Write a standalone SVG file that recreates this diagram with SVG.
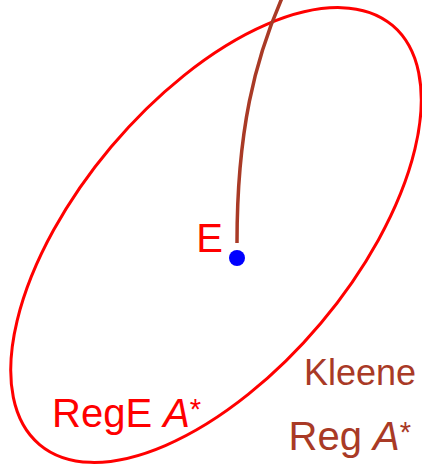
<svg xmlns="http://www.w3.org/2000/svg" width="422" height="465" viewBox="0 0 422 465">
<style>
.lbl{font-family:"Liberation Sans",Arial,sans-serif;font-size:40px}
.sm{font-size:36px}
.sup{font-size:29px}
.red{fill:#ff0000}
.brown{fill:#a93a26}
</style>
<rect width="422" height="465" fill="#ffffff"/>
<g id="rege">
<ellipse cx="216" cy="235" rx="274" ry="137" transform="rotate(-49.9 216 235)" fill="none" stroke="#ff0000" stroke-width="3"/>
<text class="lbl red" x="52" y="427">RegE <tspan font-style="italic">A</tspan><tspan class="sup" dy="-8">*</tspan></text>
</g>
<g id="connectors">
<path d="M 282 -2 C 255 60, 237 130, 237 243" fill="none" stroke="#a93a26" stroke-width="3.5"/>
</g>
<g id="E">
<circle cx="237" cy="258" r="8" fill="#0000ff"/>
<text class="lbl red" x="223" y="252" text-anchor="end">E</text>
</g>
<g id="kleene">
<text class="lbl sm brown" x="416" y="385" text-anchor="end">Kleene</text>
<text class="lbl brown" x="411" y="450" text-anchor="end">Reg <tspan font-style="italic">A</tspan><tspan class="sup" dy="-8">*</tspan></text>
</g>
</svg>
